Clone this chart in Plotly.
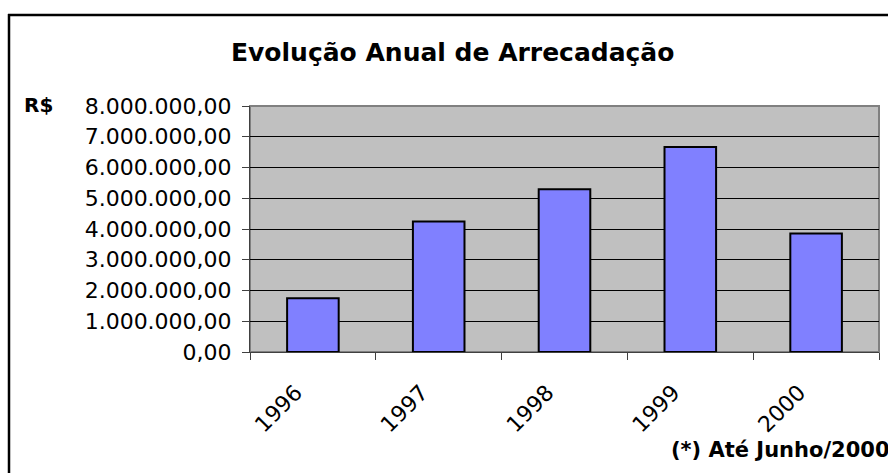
import plotly.graph_objects as go

years = ["1996", "1997", "1998", "1999", "2000"]
values = [1750000, 4240000, 5290000, 6670000, 3850000]
y_ticks = [0, 1000000, 2000000, 3000000, 4000000, 5000000, 6000000, 7000000, 8000000]

title_text = "Evolução Anual de Arrecadação"
unit_text = "R$"
note_text = "(*) Até Junho/2000"

FONT = "DejaVu Sans"
W, H = 888, 473
L, R, T, B = 250, 9, 106, 121
pw, ph = W - L - R, H - T - B

def px(X):
    return (X - L) / pw

def py(Y):
    return (H - B - Y) / ph

fig = go.Figure()
fig.add_trace(go.Bar(
    x=years, y=values,
    marker=dict(color="#8080FF", line=dict(color="black", width=2)),
    hoverinfo="skip",
))

fig.update_layout(
    width=W, height=H,
    margin=dict(l=L, r=R, t=T, b=B, pad=0),
    paper_bgcolor="white",
    plot_bgcolor="#C0C0C0",
    separators=",.",
    bargap=0.59,
    showlegend=False,
    font=dict(family=FONT, color="black"),
    xaxis=dict(
        type="category",
        tickson="boundaries",
        ticks="outside", ticklen=7, tickcolor="#404040", tickwidth=1,
        showline=True, linecolor="#404040", linewidth=1,
        showgrid=False,
        tickangle=-45,
        tickfont=dict(family=FONT, size=22, color="black"),
        ticklabelshift=-17,
        ticklabelstandoff=18,
    ),
    yaxis=dict(
        range=[0, 8000000],
        tickvals=y_ticks,
        tickformat=",.2f",
        ticks="outside", ticklen=7, tickcolor="#404040", tickwidth=1,
        showline=True, linecolor="#404040", linewidth=1,
        showgrid=True, gridcolor="black", gridwidth=1,
        zeroline=False,
        tickfont=dict(family=FONT, size=22, color="black"),
        ticklabelstandoff=6,
    ),
    shapes=[
        dict(type="rect", xref="paper", yref="paper", x0=0, x1=1, y0=0, y1=1,
             line=dict(color="#808080", width=2), layer="below"),
        dict(type="line", xref="paper", yref="paper",
             x0=px(9), x1=px(9), y0=py(14), y1=py(520),
             line=dict(color="black", width=2.5)),
        dict(type="line", xref="paper", yref="paper",
             x0=px(8), x1=px(940), y0=py(15), y1=py(15),
             line=dict(color="black", width=2.5)),
    ],
    annotations=[
        dict(text="<b>" + title_text + "</b>", xref="paper", yref="paper",
             x=px(452), y=py(52), xanchor="center", yanchor="middle",
             showarrow=False, font=dict(family=FONT, size=25, color="black")),
        dict(text="<b>" + unit_text + "</b>", xref="paper", yref="paper",
             x=px(22), y=py(105), xanchor="left", yanchor="middle",
             showarrow=False, font=dict(family=FONT, size=20, color="black")),
        dict(text="<b>" + note_text + "</b>", xref="paper", yref="paper",
             x=px(669), y=py(450), xanchor="left", yanchor="middle",
             showarrow=False, font=dict(family=FONT, size=21, color="black")),
    ],
)

fig.write_html(
    "out.html",
    config={"displayModeBar": False},
    post_script="document.body.style.margin='0';document.body.style.overflow='hidden';",
)
